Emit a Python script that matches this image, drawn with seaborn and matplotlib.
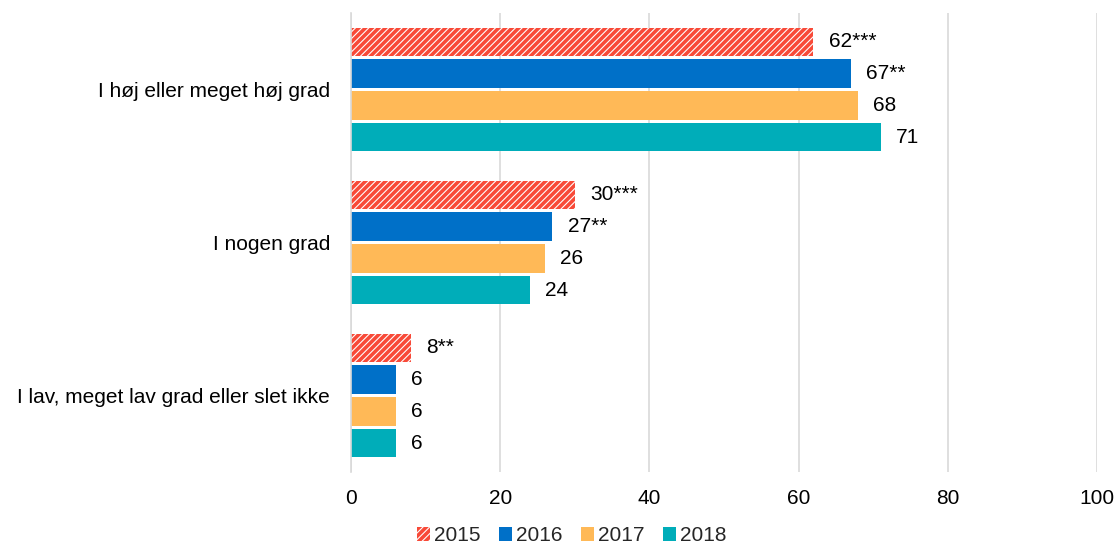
import matplotlib.pyplot as plt
import matplotlib.patches as mpatches
import pandas as pd
import seaborn as sns

categories = ["I høj eller meget høj grad", "I nogen grad", "I lav, meget lav grad eller slet ikke"]
years = ["2015", "2016", "2017", "2018"]
values = {
    "2015": [62, 30, 8],
    "2016": [67, 27, 6],
    "2017": [68, 26, 6],
    "2018": [71, 24, 6],
}
labels = {
    "2015": ["62***", "30***", "8**"],
    "2016": ["67**", "27**", "6"],
    "2017": ["68", "26", "6"],
    "2018": ["71", "24", "6"],
}
colors = ["white", "#0070C8", "#FFB957", "#00ADB9"]
hatch_red = "#F84A38"

rows = []
for y in years:
    for c, v in zip(categories, values[y]):
        rows.append({"Kategori": c, "År": y, "Andel": v})
df = pd.DataFrame(rows)

sns.set_style("white")
plt.rcParams["font.family"] = ["Liberation Sans", "DejaVu Sans"]
plt.rcParams["hatch.linewidth"] = 2.6

fig, ax = plt.subplots(figsize=(11.17, 5.45), dpi=100)
fig.subplots_adjust(left=0.3142, right=0.982, top=0.976, bottom=0.134)

sns.barplot(data=df, y="Kategori", x="Andel", hue="År", order=categories,
            hue_order=years, palette=colors, orient="h", width=0.83, gap=0.1,
            saturation=1, ax=ax, legend=False)

# hatch the 2015 bars and add value labels
for cont, y in zip(ax.containers, years):
    for bar in cont:
        bar.set_linewidth(0)
        if y == "2015":
            bar.set_hatch("/////")
            bar.set_edgecolor(hatch_red)
    ax.bar_label(cont, labels=labels[y], padding=11, fontsize=15, color="black")

ax.set_xlim(0, 100)
ax.set_ylim(2.5, -0.5)
ax.set_xticks(range(0, 101, 20))
ax.xaxis.grid(True, color="#D9D9D9", linewidth=1.2)
ax.set_axisbelow(True)
for s in ["top", "right", "bottom"]:
    ax.spines[s].set_visible(False)
ax.spines["left"].set_color("#D9D9D9")
ax.spines["left"].set_linewidth(1.2)
ax.tick_params(axis="both", length=0, labelsize=15, colors="black")
ax.tick_params(axis="y", pad=15)
ax.tick_params(axis="x", pad=12)
ax.set_xlabel("")
ax.set_ylabel("")

handles = []
for y, c in zip(years, colors):
    if y == "2015":
        handles.append(mpatches.Patch(facecolor="white", edgecolor=hatch_red, hatch="/////", linewidth=0, label=y))
    else:
        handles.append(mpatches.Patch(facecolor=c, linewidth=0, label=y))
fig.legend(handles=handles, loc="lower center", bbox_to_anchor=(0.512, -0.035), ncol=4,
           frameon=False, fontsize=15, handlelength=0.6, handleheight=0.6,
           handletextpad=0.2, columnspacing=0.9)

fig.savefig("out.png", dpi=100)
